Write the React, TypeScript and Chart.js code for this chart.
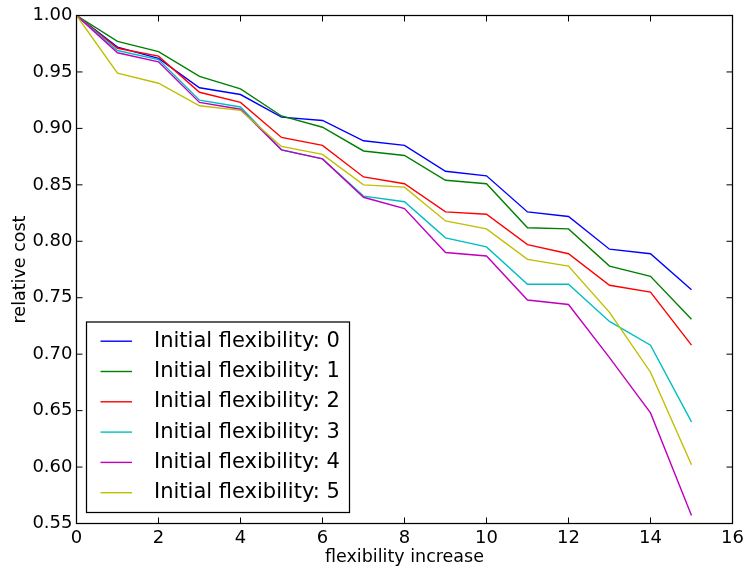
import React, { useEffect, useRef } from "react";
import { Chart, registerables } from "chart.js";

Chart.register(...registerables);

const xValues = [0, 1, 2, 3, 4, 5, 6, 7, 8, 9, 10, 11, 12, 13, 14, 15];
const flex0 = [1.0, 0.972, 0.962, 0.936, 0.930, 0.910, 0.907, 0.889, 0.885, 0.862, 0.858, 0.826, 0.822, 0.793, 0.789, 0.757];
const flex1 = [1.0, 0.977, 0.968, 0.946, 0.935, 0.911, 0.901, 0.880, 0.876, 0.854, 0.851, 0.812, 0.811, 0.778, 0.769, 0.731];
const flex2 = [1.0, 0.971, 0.964, 0.932, 0.923, 0.892, 0.885, 0.857, 0.851, 0.826, 0.824, 0.797, 0.789, 0.761, 0.755, 0.708];
const flex3 = [1.0, 0.969, 0.961, 0.925, 0.919, 0.881, 0.873, 0.840, 0.835, 0.803, 0.795, 0.762, 0.762, 0.729, 0.708, 0.640];
const flex4 = [1.0, 0.967, 0.959, 0.923, 0.917, 0.881, 0.873, 0.839, 0.829, 0.790, 0.787, 0.748, 0.744, 0.697, 0.648, 0.557];
const flex5 = [1.0, 0.949, 0.940, 0.920, 0.916, 0.884, 0.877, 0.850, 0.848, 0.818, 0.811, 0.784, 0.778, 0.737, 0.684, 0.602];

const seriesLabels = [
  "Initial flexibility: 0",
  "Initial flexibility: 1",
  "Initial flexibility: 2",
  "Initial flexibility: 3",
  "Initial flexibility: 4",
  "Initial flexibility: 5",
];
const seriesValues = [flex0, flex1, flex2, flex3, flex4, flex5];
const seriesColors = ["#0000ff", "#008000", "#ff0000", "#00bfbf", "#bf00bf", "#bfbf00"];

const xTicks = [0, 2, 4, 6, 8, 10, 12, 14, 16];
const yTicks = [0.55, 0.6, 0.65, 0.7, 0.75, 0.8, 0.85, 0.9, 0.95, 1.0];

const FONT = "'DejaVu Sans', sans-serif";

const framePlugin = {
  id: "mplFrame",
  afterDraw(chart: any) {
    const { ctx, chartArea } = chart;
    const { left, right, top, bottom } = chartArea;
    const xs = chart.scales.x;
    const ys = chart.scales.y;
    ctx.save();
    ctx.strokeStyle = "#000";
    ctx.lineWidth = 1;
    const tl = 6;
    ctx.beginPath();
    for (const v of xTicks) {
      const px = xs.getPixelForValue(v);
      ctx.moveTo(px, bottom);
      ctx.lineTo(px, bottom - tl);
      ctx.moveTo(px, top);
      ctx.lineTo(px, top + tl);
    }
    for (const v of yTicks) {
      const py = ys.getPixelForValue(v);
      ctx.moveTo(left, py);
      ctx.lineTo(left + tl, py);
      ctx.moveTo(right, py);
      ctx.lineTo(right - tl, py);
    }
    ctx.stroke();
    ctx.lineWidth = 1.25;
    ctx.strokeRect(left, top, right - left, bottom - top);

    // legend
    const lx = 86.5;
    const ly = 322;
    const lw = 263;
    const lh = 190.5;
    ctx.fillStyle = "#fff";
    ctx.fillRect(lx, ly, lw, lh);
    ctx.lineWidth = 1.25;
    ctx.strokeStyle = "#000";
    ctx.strokeRect(lx, ly, lw, lh);
    ctx.font = `21px ${FONT}`;
    ctx.textBaseline = "middle";
    ctx.textAlign = "left";
    for (let i = 0; i < seriesLabels.length; i++) {
      const cy = 341.2 + i * 30.3;
      ctx.strokeStyle = seriesColors[i];
      ctx.lineWidth = 1.4;
      ctx.beginPath();
      ctx.moveTo(100.5, cy);
      ctx.lineTo(132, cy);
      ctx.stroke();
      ctx.fillStyle = "#000";
      ctx.fillText(seriesLabels[i], 154, cy);
    }
    ctx.restore();
  },
};

export default function App() {
  const ref = useRef<HTMLCanvasElement | null>(null);
  useEffect(() => {
    if (!ref.current) return;
    const datasets = seriesValues.map((vals, i) => ({
      label: seriesLabels[i],
      data: xValues.map((x, j) => ({ x, y: vals[j] })),
      borderColor: seriesColors[i],
      backgroundColor: seriesColors[i],
      borderWidth: 1.4,
      pointRadius: 0,
      tension: 0,
      fill: false,
      order: seriesLabels.length - 1 - i,
    }));
    const chart = new Chart(ref.current, {
      type: "line",
      data: { datasets },
      options: {
        animation: false,
        responsive: false,
        maintainAspectRatio: false,
        layout: { padding: { left: 0, right: 14.5, top: 15.5, bottom: 0 } },
        plugins: { legend: { display: false }, tooltip: { enabled: false } },
        scales: {
          x: {
            type: "linear",
            min: 0,
            max: 16,
            afterBuildTicks: (s: any) => {
              s.ticks = xTicks.map((v) => ({ value: v }));
            },
            afterFit: (s: any) => {
              s.height = 46.5;
              s.paddingLeft = 0;
              s.paddingRight = 0;
            },
            grid: { display: false, drawTicks: false },
            border: { display: false },
            ticks: {
              color: "#000",
              padding: 4,
              maxRotation: 0,
              font: { family: FONT, size: 18 },
              callback: (v: any) => String(v),
            },
            title: {
              display: true,
              text: "flexibility increase",
              color: "#000",
              font: { family: FONT, size: 17.5 },
              padding: { top: 0, bottom: 2 },
            },
          },
          y: {
            type: "linear",
            min: 0.55,
            max: 1.0,
            afterBuildTicks: (s: any) => {
              s.ticks = yTicks.map((v) => ({ value: v }));
            },
            afterFit: (s: any) => {
              s.width = 76.5;
              s.paddingTop = 0;
              s.paddingBottom = 0;
            },
            grid: { display: false, drawTicks: false },
            border: { display: false },
            ticks: {
              color: "#000",
              padding: 4,
              font: { family: FONT, size: 18 },
              callback: (v: any) => Number(v).toFixed(2),
            },
            title: {
              display: true,
              text: "relative cost",
              color: "#000",
              font: { family: FONT, size: 17.5 },
              padding: { top: 10, bottom: 0 },
            },
          },
        },
      },
      plugins: [framePlugin],
    });
    return () => chart.destroy();
  }, []);
  return (
    <div style={{ position: "absolute", left: 0, top: 0, width: 747, height: 570, background: "#fff" }}>
      <canvas ref={ref} width={747} height={570} style={{ width: 747, height: 570, display: "block" }} />
    </div>
  );
}
